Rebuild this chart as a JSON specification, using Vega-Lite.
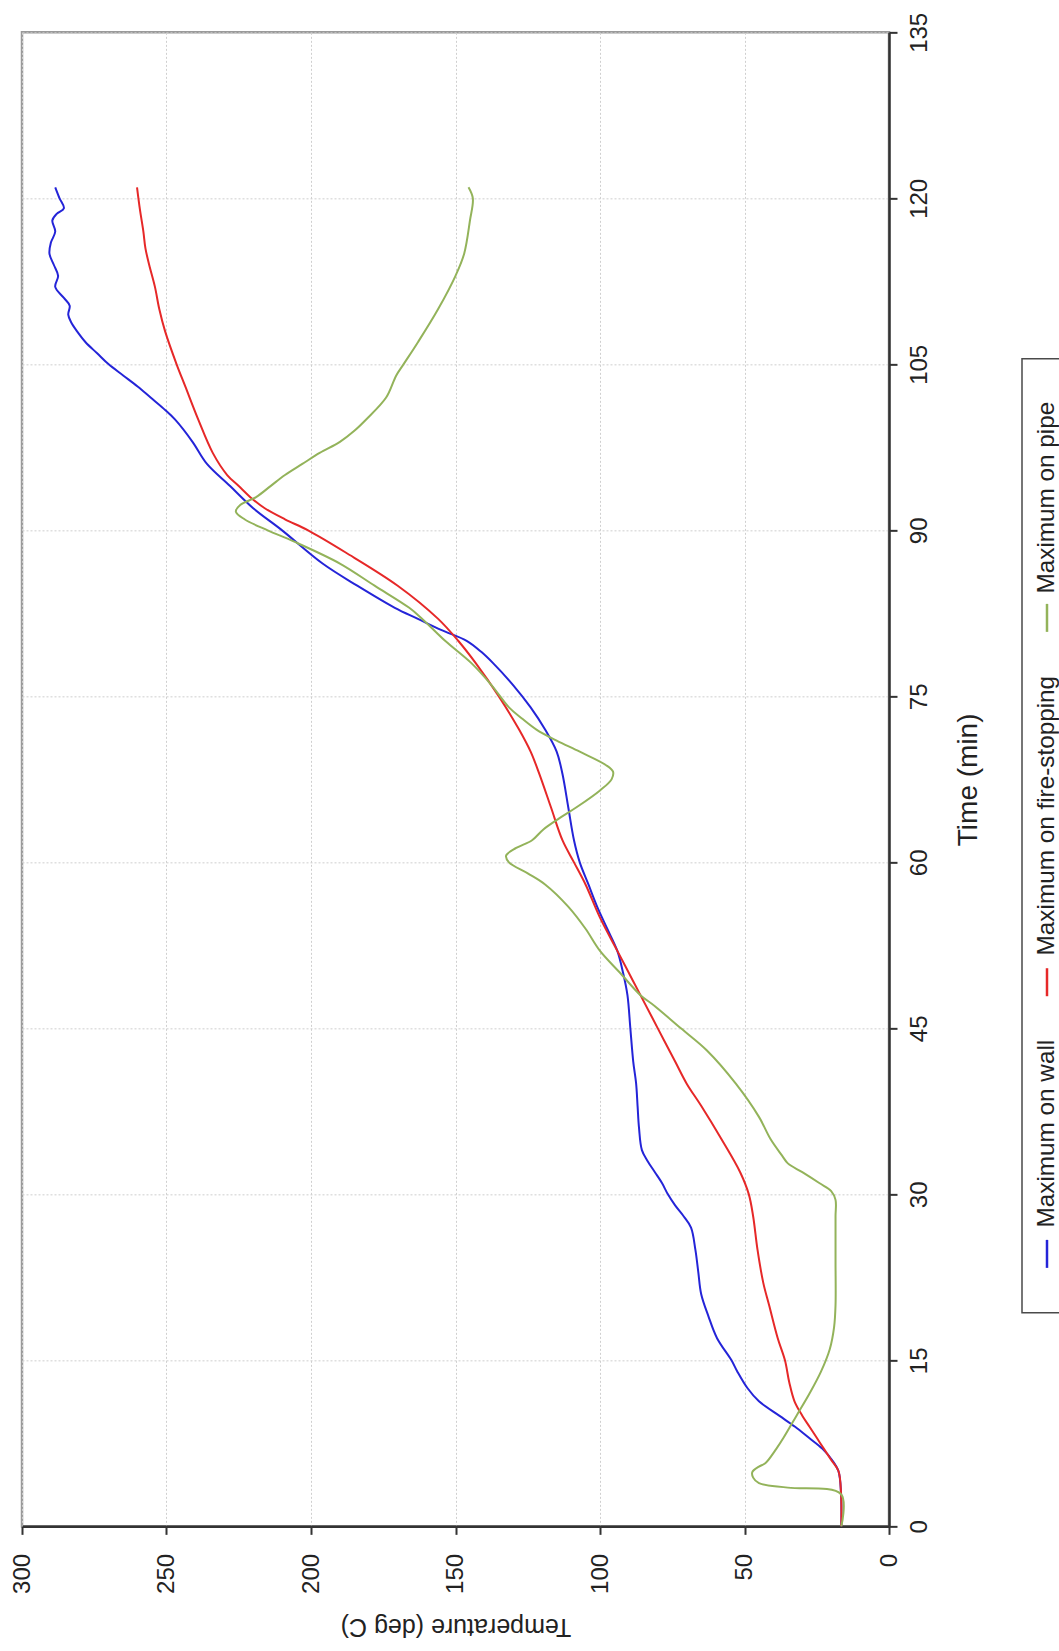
{
  "$schema": "https://vega.github.io/schema/vega-lite/v6.json",
  "padding": {"left": 8, "top": 11, "right": 1, "bottom": 5},
  "background": "white",
  "config": {"font": "Liberation Sans, Arial, sans-serif"},
  "spacing": 37,
  "center": true,
  "datasets": {
    "wall": [
      {"time": 0, "temp": 16.5}, {"time": 3, "temp": 16.6}, {"time": 5, "temp": 17.5}, {"time": 6, "temp": 19.7},
      {"time": 7, "temp": 23}, {"time": 8, "temp": 27.7}, {"time": 9, "temp": 32.5}, {"time": 10, "temp": 38},
      {"time": 11.3, "temp": 45}, {"time": 12.5, "temp": 49}, {"time": 14, "temp": 52.5}, {"time": 15, "temp": 54.5},
      {"time": 17, "temp": 59.5}, {"time": 19, "temp": 62.5}, {"time": 21, "temp": 65}, {"time": 23, "temp": 66},
      {"time": 25, "temp": 67}, {"time": 27, "temp": 68.5}, {"time": 28, "temp": 71}, {"time": 29, "temp": 74},
      {"time": 30, "temp": 76.5}, {"time": 31, "temp": 78.5}, {"time": 32, "temp": 81}, {"time": 33, "temp": 83.5},
      {"time": 34, "temp": 85.5}, {"time": 36, "temp": 86.5}, {"time": 38, "temp": 87}, {"time": 40, "temp": 87.5},
      {"time": 42, "temp": 88.5}, {"time": 45, "temp": 89.5}, {"time": 48, "temp": 90.5}, {"time": 50, "temp": 92},
      {"time": 52, "temp": 94}, {"time": 54, "temp": 97.5}, {"time": 56, "temp": 101}, {"time": 58, "temp": 104},
      {"time": 60, "temp": 107}, {"time": 62, "temp": 109}, {"time": 65, "temp": 111}, {"time": 68, "temp": 113},
      {"time": 70, "temp": 115}, {"time": 72, "temp": 119}, {"time": 74, "temp": 124}, {"time": 76, "temp": 130},
      {"time": 78, "temp": 137}, {"time": 79, "temp": 141}, {"time": 80, "temp": 146}, {"time": 81, "temp": 155},
      {"time": 82, "temp": 163}, {"time": 83, "temp": 171}, {"time": 85, "temp": 184}, {"time": 87, "temp": 196},
      {"time": 90, "temp": 210}, {"time": 92, "temp": 220}, {"time": 94, "temp": 228}, {"time": 96, "temp": 236},
      {"time": 98, "temp": 241}, {"time": 100, "temp": 247}, {"time": 101, "temp": 251}, {"time": 102, "temp": 255.5},
      {"time": 103, "temp": 260}, {"time": 104, "temp": 265}, {"time": 105, "temp": 270}, {"time": 106, "temp": 274},
      {"time": 107, "temp": 278}, {"time": 108, "temp": 281}, {"time": 108.8, "temp": 283}, {"time": 109.5, "temp": 284},
      {"time": 110.3, "temp": 283.5}, {"time": 111, "temp": 285.5}, {"time": 112, "temp": 288.5}, {"time": 113, "temp": 287.5},
      {"time": 114, "temp": 289}, {"time": 115, "temp": 290.5}, {"time": 116, "temp": 290}, {"time": 117, "temp": 288.5},
      {"time": 118, "temp": 289.5}, {"time": 118.6, "temp": 288}, {"time": 119.1, "temp": 285.5}, {"time": 120, "temp": 287},
      {"time": 121, "temp": 288.5}
    ],
    "fire": [
      {"time": 0, "temp": 16.5}, {"time": 3, "temp": 16.6}, {"time": 5, "temp": 17.5}, {"time": 6, "temp": 20},
      {"time": 7, "temp": 22.5}, {"time": 8, "temp": 25}, {"time": 9, "temp": 27.5}, {"time": 10, "temp": 30},
      {"time": 11.3, "temp": 32.7}, {"time": 13, "temp": 34.5}, {"time": 15, "temp": 36}, {"time": 17, "temp": 38.5},
      {"time": 20, "temp": 41.5}, {"time": 22, "temp": 43.5}, {"time": 25, "temp": 45.5}, {"time": 28, "temp": 47},
      {"time": 30, "temp": 48.5}, {"time": 32, "temp": 51.5}, {"time": 35, "temp": 58}, {"time": 38, "temp": 65},
      {"time": 40, "temp": 70}, {"time": 42, "temp": 74}, {"time": 45, "temp": 80}, {"time": 48, "temp": 86},
      {"time": 50, "temp": 90}, {"time": 52, "temp": 94}, {"time": 55, "temp": 100}, {"time": 58, "temp": 105},
      {"time": 60, "temp": 109}, {"time": 62, "temp": 113}, {"time": 65, "temp": 117}, {"time": 68, "temp": 121},
      {"time": 70, "temp": 124}, {"time": 72, "temp": 128}, {"time": 75, "temp": 135}, {"time": 78, "temp": 143},
      {"time": 80, "temp": 149}, {"time": 82, "temp": 156}, {"time": 85, "temp": 170}, {"time": 88, "temp": 188},
      {"time": 90, "temp": 201}, {"time": 91, "temp": 209}, {"time": 92, "temp": 216}, {"time": 93, "temp": 221},
      {"time": 94, "temp": 225}, {"time": 95, "temp": 229}, {"time": 97, "temp": 234}, {"time": 100, "temp": 239},
      {"time": 103, "temp": 243.5}, {"time": 105, "temp": 246.5}, {"time": 108, "temp": 250.5}, {"time": 110, "temp": 252.5},
      {"time": 112, "temp": 254}, {"time": 114, "temp": 256}, {"time": 115.5, "temp": 257.3}, {"time": 117, "temp": 258},
      {"time": 119, "temp": 259.2}, {"time": 121, "temp": 260.2}
    ],
    "pipe": [
      {"time": 0, "temp": 16.5}, {"time": 2.9, "temp": 16.6}, {"time": 3.5, "temp": 35}, {"time": 3.9, "temp": 45},
      {"time": 4.4, "temp": 47}, {"time": 4.9, "temp": 47.3}, {"time": 5.4, "temp": 45}, {"time": 5.7, "temp": 42.8},
      {"time": 7, "temp": 39}, {"time": 8, "temp": 36.5}, {"time": 10, "temp": 32}, {"time": 12, "temp": 27.5},
      {"time": 14, "temp": 23.5}, {"time": 16, "temp": 20.5}, {"time": 18, "temp": 19}, {"time": 20, "temp": 18.5},
      {"time": 24, "temp": 18.5}, {"time": 28, "temp": 18.5}, {"time": 29.5, "temp": 18.5}, {"time": 30.3, "temp": 20},
      {"time": 31, "temp": 24}, {"time": 32, "temp": 30}, {"time": 32.8, "temp": 35}, {"time": 33.5, "temp": 37},
      {"time": 35, "temp": 41}, {"time": 37, "temp": 45}, {"time": 40, "temp": 53}, {"time": 43, "temp": 63},
      {"time": 45, "temp": 72}, {"time": 47, "temp": 81}, {"time": 48, "temp": 86}, {"time": 50, "temp": 93},
      {"time": 52, "temp": 100}, {"time": 54, "temp": 105}, {"time": 56, "temp": 111}, {"time": 58, "temp": 119},
      {"time": 59, "temp": 125}, {"time": 60, "temp": 131.5}, {"time": 60.6, "temp": 132.5}, {"time": 61.3, "temp": 129},
      {"time": 62, "temp": 123.5}, {"time": 63, "temp": 119.5}, {"time": 64, "temp": 114}, {"time": 65, "temp": 108},
      {"time": 66.5, "temp": 100}, {"time": 67.5, "temp": 96}, {"time": 68.2, "temp": 95.5}, {"time": 68.8, "temp": 98},
      {"time": 70, "temp": 107}, {"time": 71, "temp": 115}, {"time": 72, "temp": 122}, {"time": 73, "temp": 127},
      {"time": 74, "temp": 131.5}, {"time": 76, "temp": 137.5}, {"time": 78, "temp": 144.5}, {"time": 80, "temp": 153.5},
      {"time": 82, "temp": 161.5}, {"time": 83, "temp": 166}, {"time": 85, "temp": 178}, {"time": 87, "temp": 190},
      {"time": 89, "temp": 206}, {"time": 90, "temp": 215}, {"time": 91, "temp": 223}, {"time": 91.7, "temp": 226},
      {"time": 92.3, "temp": 224.5}, {"time": 93, "temp": 219}, {"time": 94, "temp": 214}, {"time": 95, "temp": 209},
      {"time": 96, "temp": 203}, {"time": 97, "temp": 197}, {"time": 98, "temp": 190}, {"time": 99, "temp": 185},
      {"time": 100, "temp": 181}, {"time": 102, "temp": 174}, {"time": 104, "temp": 170.5}, {"time": 105, "temp": 168},
      {"time": 107, "temp": 163}, {"time": 110, "temp": 156}, {"time": 113, "temp": 150}, {"time": 115, "temp": 147},
      {"time": 118, "temp": 145}, {"time": 120, "temp": 144}, {"time": 121, "temp": 145.5}
    ],
    "legendRows": [
      {"series": "Maximum on pipe"}, {"series": "Maximum on fire-stopping"}, {"series": "Maximum on wall"}
    ]
  },
  "hconcat": [
    {
      "width": 867,
      "height": 1494,
      "view": {"stroke": "#9a9a9a", "strokeWidth": 2.5},
      "layer": [
        {
          "data": {"name": "wall"},
          "transform": [{"calculate": "'Maximum on wall'", "as": "series"}],
          "mark": {"type": "line", "strokeWidth": 2, "interpolate": "catmull-rom"},
          "encoding": {
            "x": {"field": "temp", "type": "quantitative"},
            "y": {"field": "time", "type": "quantitative"},
            "color": {"field": "series", "type": "nominal", "legend": null},
            "order": {"field": "time", "type": "quantitative"}
          }
        },
        {
          "data": {"name": "fire"},
          "transform": [{"calculate": "'Maximum on fire-stopping'", "as": "series"}],
          "mark": {"type": "line", "strokeWidth": 2, "interpolate": "catmull-rom"},
          "encoding": {
            "x": {"field": "temp", "type": "quantitative"},
            "y": {"field": "time", "type": "quantitative"},
            "color": {"field": "series", "type": "nominal", "legend": null},
            "order": {"field": "time", "type": "quantitative"}
          }
        },
        {
          "data": {"name": "pipe"},
          "transform": [{"calculate": "'Maximum on pipe'", "as": "series"}],
          "mark": {"type": "line", "strokeWidth": 2, "interpolate": "catmull-rom"},
          "encoding": {
            "x": {
              "field": "temp", "type": "quantitative",
              "scale": {"domain": [0, 300], "reverse": true, "nice": false, "zero": false},
              "axis": {
                "title": "Temperature (deg C)", "orient": "bottom",
                "values": [0, 50, 100, 150, 200, 250, 300],
                "labelAngle": 270, "labelAlign": "right", "labelBaseline": "middle",
                "labelFontSize": 24, "labelPadding": 19, "labelColor": "#222", "labelFlush": false, "labelOverlap": false,
                "tickSize": 8, "tickColor": "#333", "tickWidth": 2,
                "domainColor": "#333", "domainWidth": 2.5,
                "grid": true, "gridColor": "#cfcfcf", "gridDash": [2, 2], "gridWidth": 1,
                "titleAngle": 180, "titleBaseline": "bottom", "titleFontSize": 25, "titleFontWeight": "normal",
                "titlePadding": 20, "titleColor": "#222"
              }
            },
            "y": {
              "field": "time", "type": "quantitative",
              "scale": {"domain": [0, 135], "nice": false, "zero": false},
              "axis": {
                "title": "Time (min)", "orient": "right",
                "values": [0, 15, 30, 45, 60, 75, 90, 105, 120, 135],
                "labelAngle": 270, "labelAlign": "center", "labelBaseline": "top",
                "labelFontSize": 24, "labelPadding": 10, "labelColor": "#222", "labelFlush": false, "labelOverlap": false,
                "tickSize": 8, "tickColor": "#333", "tickWidth": 2,
                "domainColor": "#333", "domainWidth": 2.5,
                "grid": true, "gridColor": "#cfcfcf", "gridDash": [2, 2], "gridWidth": 1,
                "titleAngle": 270, "titleBaseline": "top", "titleFontSize": 28, "titleFontWeight": "normal",
                "titlePadding": 23, "titleColor": "#222"
              }
            },
            "color": {
              "field": "series", "type": "nominal",
              "scale": {
                "domain": ["Maximum on wall", "Maximum on fire-stopping", "Maximum on pipe"],
                "range": ["#2424d8", "#e62828", "#93b35a"]
              },
              "legend": null
            },
            "order": {"field": "time", "type": "quantitative"}
          }
        }
      ]
    },
    {
      "width": 40,
      "height": 954,
      "view": {"stroke": "#4a4a4a", "strokeWidth": 1.5, "fill": "white"},
      "data": {"name": "legendRows"},
      "encoding": {
        "y": {
          "field": "series", "type": "nominal",
          "scale": {"domain": ["Maximum on pipe", "Maximum on fire-stopping", "Maximum on wall"], "paddingInner": 0, "paddingOuter": 0},
          "axis": null
        }
      },
      "layer": [
        {
          "mark": {"type": "text", "angle": 270, "align": "center", "baseline": "middle", "fontSize": 24.3, "color": "#222", "yOffset": -20, "xOffset": 5},
          "encoding": {"text": {"field": "series", "type": "nominal"}}
        },
        {
          "mark": {"type": "point", "shape": "M0,-1L0,1", "size": 784, "filled": false, "strokeWidth": 2.5, "opacity": 1, "xOffset": 5, "yOffset": {"expr": "5.15 * length(datum.series) + 23"}},
          "encoding": {
            "color": {
              "field": "series", "type": "nominal",
              "scale": {
                "domain": ["Maximum on wall", "Maximum on fire-stopping", "Maximum on pipe"],
                "range": ["#2424d8", "#e62828", "#93b35a"]
              },
              "legend": null
            }
          }
        }
      ]
    }
  ]
}
